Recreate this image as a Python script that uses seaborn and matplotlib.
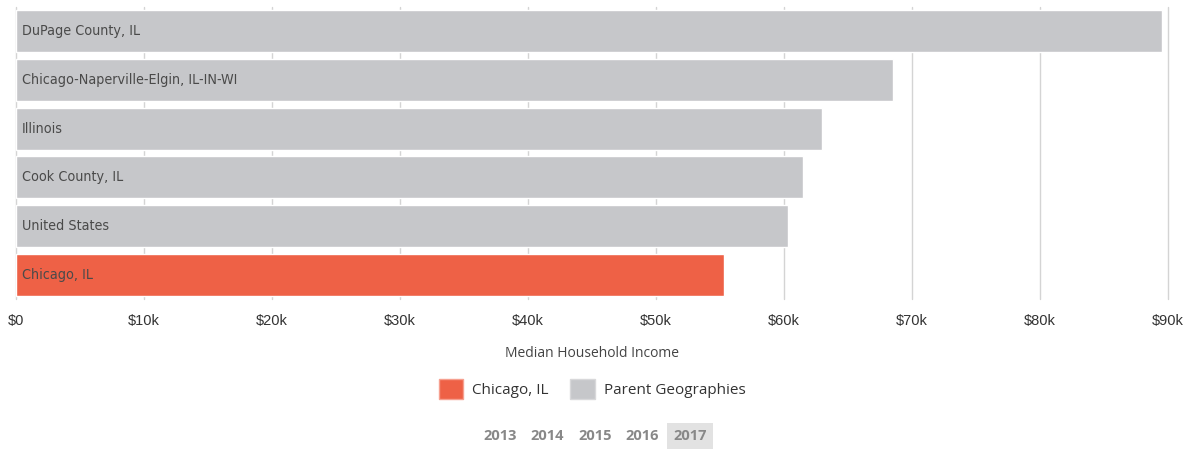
import matplotlib
matplotlib.use('Agg')
import matplotlib.pyplot as plt
from matplotlib.patches import Patch
from matplotlib.ticker import FuncFormatter
import seaborn as sns
import pandas as pd

# Median household income, 2017
places = ['DuPage County, IL', 'Chicago-Naperville-Elgin, IL-IN-WI', 'Illinois',
          'Cook County, IL', 'United States', 'Chicago, IL']
incomes = [89500, 68500, 63000, 61450, 60350, 55300]
groups = ['Parent Geographies'] * 5 + ['Chicago, IL']
years = ['2013', '2014', '2015', '2016', '2017']
ticks = [0, 10000, 20000, 30000, 40000, 50000, 60000, 70000, 80000, 90000]

colors = {'Chicago, IL': '#EE6146', 'Parent Geographies': '#C6C7CA'}
grid_col = '#D4D4D4'

df = pd.DataFrame({'place': places, 'income': incomes, 'group': groups})

sns.set_style('white')
plt.rcParams['font.family'] = ['Open Sans', 'DejaVu Sans']

fig = plt.figure(figsize=(11.92, 4.57), dpi=100)
ax = fig.add_axes([16 / 1192, 1 - 299 / 457, 1152 / 1192, 292 / 457])

sns.barplot(data=df, x='income', y='place', hue='group', palette=colors,
            dodge=False, legend=False, width=0.86, saturation=1, ax=ax, zorder=2)

ax.set_xlim(0, 90000)
ax.set_xticks(ticks)
ax.xaxis.set_major_formatter(FuncFormatter(lambda v, p: '$0' if v == 0 else f'${int(v / 1000)}k'))
ax.grid(axis='x', color=grid_col, linewidth=1, zorder=0)
ax.set_axisbelow(True)
for g in ax.xaxis.get_gridlines():
    g.set_clip_on(False)
ax.tick_params(axis='x', length=6, color=grid_col, labelsize=10.5, labelcolor='#333333', pad=5)
for lbl in ax.get_xticklabels():
    lbl.set_fontfamily(['Liberation Sans', 'DejaVu Sans'])
ax.set_yticks([])
ax.set_ylabel('')
ax.set_xlabel('Median Household Income', fontsize=10, color='#444444', labelpad=13)
for s in ax.spines.values():
    s.set_visible(False)

# labels inside the bars
for i, name in enumerate(places):
    ax.text(470, i, name, va='center', ha='left', fontsize=10.3,
            color='#4A4A4A', family=['Liberation Sans Narrow', 'DejaVu Sans'],
            fontstretch='condensed', zorder=3)

handles = [Patch(facecolor=colors['Chicago, IL'], edgecolor='#F6A090', label='Chicago, IL'),
           Patch(facecolor=colors['Parent Geographies'], edgecolor='#D8D8DA', label='Parent Geographies')]
fig.legend(handles=handles, loc='center', bbox_to_anchor=(592 / 1192, 1 - 389 / 457), ncol=2,
           frameon=False, fontsize=11, handlelength=1.6, handleheight=1.6,
           handletextpad=0.6, columnspacing=1.4, labelcolor='#333333')

# year selector
for k, yr in enumerate(years):
    x = (500 + 47.5 * k) / 1192
    box = dict(boxstyle='square,pad=0.4', facecolor='#E2E2E2', edgecolor='none') if yr == '2017' else None
    fig.text(x, 1 - 436 / 457, yr, ha='center', va='center', fontsize=10.5,
             fontweight='bold', color='#888888', bbox=box)

fig.savefig('out.png', dpi=100, facecolor='white')
